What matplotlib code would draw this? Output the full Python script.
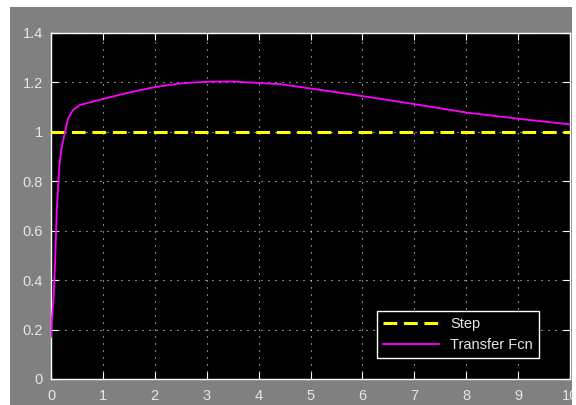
#!/usr/bin/env python
import numpy as np
import matplotlib
matplotlib.use("Agg")
import matplotlib.pyplot as plt
from matplotlib.patches import Rectangle
from matplotlib.ticker import FormatStrFormatter

# --- scope data ---
t = [0, 0.02, 0.05, 0.08, 0.11, 0.16, 0.2, 0.27, 0.33, 0.43, 0.56, 0.98,
     1.46, 1.97, 2.49, 3.0, 3.5, 3.8, 4.41, 5.05, 5.7, 6.27, 6.98, 8.01,
     8.97, 10]
tf_out = [0.17, 0.25, 0.33, 0.48, 0.68, 0.86, 0.93, 1.0, 1.055, 1.09, 1.109,
          1.132, 1.157, 1.18, 1.196, 1.203, 1.204, 1.2, 1.193, 1.174, 1.154,
          1.136, 1.113, 1.078, 1.054, 1.03]
step_t = [0, 10]
step_val = [1, 1]
xticks = list(range(0, 11))
yticks = [0, 0.2, 0.4, 0.6, 0.8, 1.0, 1.2, 1.4]

plt.rcParams['font.family'] = ['Liberation Sans', 'DejaVu Sans']
txt_color = '#e6e6e6'

fig = plt.figure(figsize=(5.76, 4.05), dpi=100, facecolor='white')
# gray scope window
bg = Rectangle((10/576, 0), 562/576, 398/405, transform=fig.transFigure,
               facecolor='#808080', edgecolor='none', zorder=-10)
fig.patches.append(bg)

ax = fig.add_axes([51/576, 26/405, 519/576, 346/405])
ax.set_zorder(1)
ax.set_facecolor('black')

ax.plot(step_t, step_val, color='yellow', linewidth=2.2,
        linestyle=(0, (4.5, 2.2)), label='Step', zorder=3)
ax.plot(t, tf_out, color='#ff00ff', linewidth=1.3, label='Transfer Fcn', zorder=4)

ax.set_xlim(0, 10)
ax.set_ylim(0, 1.4)
ax.set_xticks(xticks)
ax.set_yticks(yticks)
ax.yaxis.set_major_formatter(FormatStrFormatter('%g'))

ax.grid(True, color='white', linestyle=(0, (0.9, 5.4)), linewidth=0.8)
for s in ax.spines.values():
    s.set_color('white')
    s.set_linewidth(1.0)
ax.tick_params(direction='in', length=5, color='white', labelcolor=txt_color,
               labelsize=10.5, top=True, right=True)
ax.tick_params(axis='x', pad=7)
ax.tick_params(axis='y', pad=6)

# the "10" label is cut by the edge of the scope window
for lab in ax.get_xticklabels():
    lab.set_clip_path(bg)

leg = ax.legend(loc='lower right', bbox_to_anchor=(0.94, 0.06),
                borderaxespad=0, fancybox=False, facecolor='black',
                edgecolor='white', framealpha=1, fontsize=10.5,
                handlelength=3.8)
leg.get_frame().set_linewidth(1.0)
for txt in leg.get_texts():
    txt.set_color(txt_color)

fig.savefig('out.png', dpi=100, facecolor=fig.get_facecolor())
